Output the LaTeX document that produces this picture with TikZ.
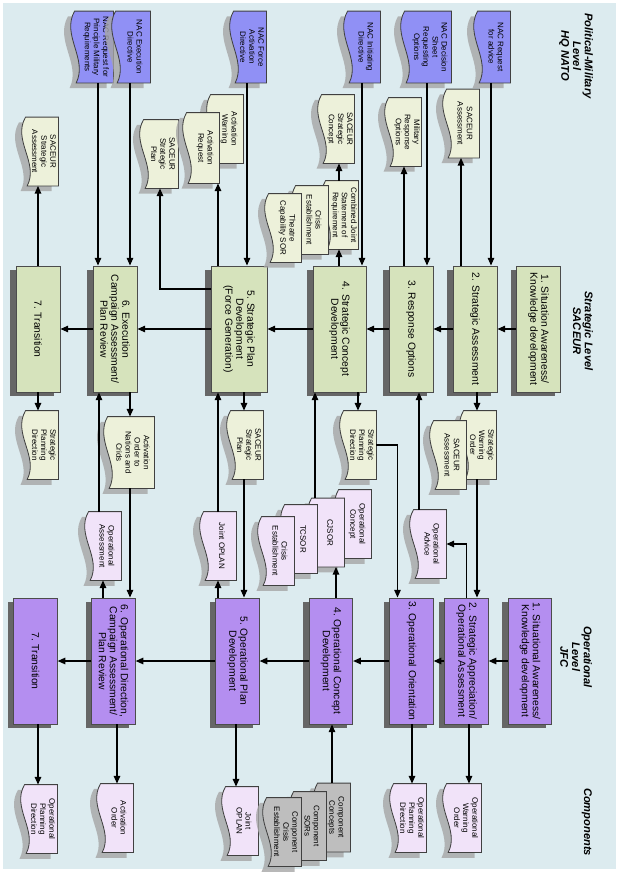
\documentclass[tikz,border=0pt]{standalone}
\usepackage{fontspec}
\setmainfont{Liberation Sans}
\usepackage{tikz}
\usetikzlibrary{arrows.meta, calc, shadows}
\definecolor{paneBlue}{HTML}{DCEBEF}
\definecolor{stratGreen}{HTML}{D6E3BC}
\definecolor{stratDoc}{HTML}{EDF1DA}
\definecolor{opPurple}{HTML}{B48EF0}
\definecolor{opDoc}{HTML}{F1E3F9}
\definecolor{nacBlue}{HTML}{9090F5}
\definecolor{compGray}{HTML}{BEBEBE}

% document page with a wavy lower edge
\makeatletter
\newdimen\wdxa \newdimen\wdya \newdimen\wdxb \newdimen\wdyb \newdimen\wdt
\newdimen\wavedp \wavedp=1.2mm
\pgfdeclareshape{wavedoc}{
  \inheritsavedanchors[from=rectangle]
  \inheritanchorborder[from=rectangle]
  \inheritanchor[from=rectangle]{center}
  \inheritanchor[from=rectangle]{north}
  \inheritanchor[from=rectangle]{south}
  \inheritanchor[from=rectangle]{east}
  \inheritanchor[from=rectangle]{west}
  \inheritanchor[from=rectangle]{north east}
  \inheritanchor[from=rectangle]{north west}
  \inheritanchor[from=rectangle]{south east}
  \inheritanchor[from=rectangle]{south west}
  \backgroundpath{%
    \southwest \wdxa=\pgf@x \wdya=\pgf@y
    \northeast \wdxb=\pgf@x \wdyb=\pgf@y
    \wdt=\wdxb \advance\wdt by -\wdxa \divide\wdt by 3
    \pgfpathmoveto{\pgfqpoint{\wdxa}{\dimexpr\wdya-\wavedp\relax}}%
    \pgfpathlineto{\pgfqpoint{\wdxa}{\wdyb}}%
    \pgfpathlineto{\pgfqpoint{\wdxb}{\wdyb}}%
    \pgfpathlineto{\pgfqpoint{\wdxb}{\dimexpr\wdya-0.6\wavedp\relax}}%
    \pgfpathcurveto{\pgfqpoint{\dimexpr\wdxa+2\wdt\relax}{\dimexpr\wdya+2.4\wavedp\relax}}%
                   {\pgfqpoint{\dimexpr\wdxa+\wdt\relax}{\dimexpr\wdya-4.4\wavedp\relax}}%
                   {\pgfqpoint{\wdxa}{\dimexpr\wdya-\wavedp\relax}}%
    \pgfpathclose
  }
}
\makeatother

\newcommand\boxfont{\fontsize{8.8}{9.4}\selectfont}
\newcommand\docfont{\fontsize{6.8}{7.8}\selectfont}
\newcommand\lvlfont{\fontsize{9.5}{10}\selectfont\bfseries\itshape}

\tikzset{
  stepbox/.style={draw=black!70, line width=0.8pt, rotate=-90, minimum width=37.8mm, minimum height=13.2mm, inner sep=1pt, align=center, font=\boxfont, drop shadow={shadow xshift=-1.8mm, shadow yshift=-1.1mm, fill=black!60, opacity=1}},
  stratbox/.style={stepbox, fill=stratGreen},
  opbox/.style={stepbox, fill=opPurple},
  doc/.style={shape=wavedoc, draw=black!75, line width=0.7pt, rotate=-90, minimum width=20.4mm, minimum height=8.4mm, inner sep=0.6pt, align=center, font=\docfont, drop shadow={shadow xshift=-2mm, shadow yshift=-1.6mm, fill=black!35, opacity=0.8}},
  nacdoc/.style={doc, fill=nacBlue, minimum width=21.3mm},
  sdoc/.style={doc, fill=stratDoc},
  odoc/.style={doc, fill=opDoc},
  cdoc/.style={doc, fill=compGray},
  lvl/.style={rotate=-90, anchor=north, align=center, font=\lvlfont},
}

\begin{document}
\begin{tikzpicture}[x=0.3mm, y=-0.3mm, >={Triangle[length=6.5pt,width=5.5pt]}, link/.style={line width=1pt}]
  \useasboundingbox (0,0) rectangle (619,872);
  \fill[paneBlue] (3,3) rectangle (616,869);

  % Level captions
  \node[lvl] (lvlpol) at (597,56) {Political-Military\\Level\\HQ NATO};
  \node[lvl] (lvlstr) at (597,331) {Strategic Level\\SACEUR};
  \node[lvl] (lvlop) at (596,657) {Operational\\Level\\JFC};
  \node[lvl] (lvlcomp) at (596,822) {Components};

  % Strategic steps
  \node[stratbox] (s1) at (538.5,329) {1. Situation Awareness/\\Knowledge development};
  \node[stratbox] (s2) at (475,329) {2. Strategic Assessment};
  \node[stratbox] (s3) at (411,329) {3. Response Options};
  \node[stratbox, minimum height=15.9mm] (s4) at (339.5,329) {4. Strategic Concept\\Development};
  \node[stratbox, minimum height=16.8mm] (s5) at (239,329) {5. Strategic Plan\\Development\\(Force Generation)};
  \node[stratbox] (s6) at (115,329) {6. Execution\\Campaign Assessment/\\Plan Review};
  \node[stratbox] (s7) at (38,329) {7. Transition};

  % Operational steps
  \node[opbox, minimum height=13mm] (o1) at (530,661) {1. Situational Awareness/\\Knowledge development};
  \node[opbox, minimum height=13mm] (o2) at (466.5,661) {2. Strategic Appreciation/\\Operational Assessment};
  \node[opbox, minimum height=13mm] (o3) at (411.5,661) {3. Operational Orientation};
  \node[opbox, minimum height=13mm] (o4) at (331,661) {4. Operational Concept\\Development};
  \node[opbox, minimum height=13mm] (o5) at (237.5,661) {5. Operational Plan\\Development};
  \node[opbox, minimum height=13mm] (o6) at (113.5,661) {6. Operational Direction,\\Campaign Assessment/\\Plan Review};
  \node[opbox, minimum height=13mm] (o7) at (35.5,661) {7. Transition};

  % NAC documents
  \node[nacdoc, minimum height=10.2mm] (nacpmr) at (96,47) {NAC Request for\\Principle Military\\Requirements};
  \node[nacdoc, minimum height=9mm] (nacexe) at (135,47) {NAC Execution\\Directive};
  \node[nacdoc] (nacforce) at (252,47) {NAC Force\\Activation\\Directive};
  \node[nacdoc] (nacinit) at (366,47) {NAC Initiating\\Directive};
  \node[nacdoc, minimum height=12.6mm] (nacdec) at (430,47) {NAC Decision\\Sheet\\Requesting\\Options};
  \node[nacdoc] (nacadv) at (496,47) {NAC Request\\for advice};

  % Strategic products, upper row
  \node[sdoc] (ssass) at (44,151.5) {SACEUR\\Strategic\\Assessment};
  \node[sdoc, minimum height=9mm] (sacplan) at (163,154) {SACEUR\\Strategic\\Plan};
  \node[sdoc] (actwarn) at (229,129) {Activation\\Warning};
  \node[sdoc, minimum width=21mm] (actreq) at (205,148) {Activation\\Request};
  \node[sdoc] (sccon) at (340,129) {SACEUR\\Strategic\\Concept};
  \node[sdoc] (cjsr) at (344,215) {Combined Joint\\Statement of\\Requirement};
  \node[sdoc] (crisis1) at (314,220) {Crisis\\Establishment};
  \node[sdoc] (theatre) at (287,228) {Theatre\\Capability SOR};
  \node[sdoc] (milopt) at (407,132) {Military\\Response\\Options};
  \node[sdoc] (sacass) at (465,123.5) {SACEUR\\Assessment};

  % Strategic products, lower row
  \node[sdoc] (spd7) at (44,445) {Strategic\\Planning\\Direction};
  \node[sdoc, minimum height=12.6mm, minimum width=21.3mm] (actord) at (133,452.5) {Activation\\Order to\\Nations and\\Crids};
  \node[sdoc] (sacplan2) at (249,445) {SACEUR\\Strategic\\Plan};
  \node[sdoc] (spdmid) at (362,445) {Strategic\\Planning\\Direction};
  \node[sdoc] (swo) at (482,445) {Strategic\\Warning\\Order};
  \node[sdoc] (sacass2) at (452,455) {SACEUR\\Assessment};

  % Operational products for SACEUR
  \node[odoc] (opass) at (107,546) {Operational\\Assessment};
  \node[odoc] (jopmid) at (222,546) {Joint OPLAN};
  \node[odoc] (opconc) at (357,524) {Operational\\Concept};
  \node[odoc] (cjsor) at (330,532.5) {CJSOR};
  \node[odoc] (tcsor) at (303,539) {TCSOR};
  \node[odoc] (crisis2) at (280,551) {Crisis\\Establishment};
  \node[odoc] (opadv) at (432,544) {Operational\\Advice};

  % Component level documents
  \node[odoc] (opd7) at (43,819) {Operational\\Planning\\Direction};
  \node[odoc] (actord2) at (119,818) {Activation\\Order};
  \node[odoc] (joplan2) at (244,821) {Joint\\OPLAN};
  \node[cdoc] (compconc) at (336,817.5) {Component\\Concepts};
  \node[cdoc] (compsor) at (312,826) {Component\\SORs};
  \node[cdoc, minimum height=9mm] (compcrisis) at (286,832) {Component\\Crisis\\Establishment};
  \node[odoc] (opd3) at (412,818) {Operational\\Planning\\Direction};
  \node[odoc, minimum height=9mm] (owo) at (466,818) {Operational\\Warning\\Order};

  % Step to step
  \draw[link,->] (s1.south) -- (s2.north);
  \draw[link,->] (s2.south) -- (s3.north);
  \draw[link,->] (s3.south) -- (s4.north);
  \draw[link,->] (s4.south) -- (s5.north);
  \draw[link,->] (s5.south) -- (s6.north);
  \draw[link,->] (s6.south) -- (s7.north);
  \draw[link,->] (o1.south) -- (o2.north);
  \draw[link,->] (o2.south) -- (o3.north);
  \draw[link,->] (o3.south) -- (o4.north);
  \draw[link,->] (o4.south) -- (o5.north);
  \draw[link,->] (o5.south) -- (o6.north);
  \draw[link,->] (o6.south) -- (o7.north);

  % Political-military and strategic
  \draw[link,->] ($(nacadv.east)+(-5,0)$) coordinate (k) -- (k |- s2.west);
  \draw[link,<-] ($(sacass.east)+(-4,0)$) coordinate (k) -- (k |- s2.west);
  \draw[link,->] ($(nacdec.east)+(-3,0)$) coordinate (k) -- (k |- s3.west);
  \draw[link,<-] ($(milopt.east)+(-3,0)$) coordinate (k) -- (k |- s3.west);
  \draw[link,->] ($(nacinit.east)+(-4,0)$) coordinate (k) -- (k |- s4.west);
  \draw[link,<-] ($(cjsr.east)+(-5,0)$) coordinate (k) -- (k |- s4.west);
  \draw[link,<-] ($(sccon.east)+(-1,0)$) coordinate (k) -- (k |- cjsr.west);
  \draw[link,->] ($(nacforce.east)+(-5,0)$) coordinate (k) -- (k |- s5.west);
  \draw[link,<-] ($(actreq.east)+(13,0)$) coordinate (k) -- (k |- s5.west);
  \draw[link,->] ($(s5.south)+(0,-40)$) -| ($(sacplan.east)+(-3,0)$);
  \draw[link,->] ($(nacexe.east)+(-5,0)$) coordinate (k) -- (k |- s6.west);
  \draw[link,->] ($(nacpmr.east)+(2,0)$) coordinate (k) -- (k |- s6.west);
  \draw[link,<-] ($(ssass.east)+(-6,0)$) coordinate (k) -- (k |- s7.west);

  % Strategic and operational
  \draw[link,<-] ($(spd7.west)+(-6,0)$) coordinate (k) -- (k |- s7.east);
  \draw[link,->] ($(opass.west)+(-8,0)$) coordinate (k) -- (k |- s6.east);
  \draw[link,<-] ($(opass.east)+(-4,0)$) coordinate (k) -- (k |- o6.west);
  \draw[link,<-] ($(actord.west)+(-3,0)$) coordinate (k) -- (k |- s6.east);
  \draw[link,->] ($(actord.east)+(-3,0)$) coordinate (k) -- (k |- o6.west);
  \draw[link,->] ($(jopmid.west)+(-4,0)$) coordinate (k) -- (k |- s5.east);
  \draw[link,<-] ($(jopmid.east)+(-4,0)$) coordinate (k) -- (k |- o5.west);
  \draw[link,<-] ($(sacplan2.west)+(-5,0)$) coordinate (k) -- (k |- s5.east);
  \draw[link,->] ($(sacplan2.east)+(-5,0)$) coordinate (k) -- (k |- o5.west);
  \draw[link,->] ($(cjsor.west)+(-15,0)$) coordinate (k) -- (k |- s4.east);
  \draw[link,<-] ($(cjsor.east)+(6,0)$) coordinate (k) -- (k |- o4.west);
  \draw[link,<-] ($(spdmid.west)+(-4,0)$) coordinate (k) -- (k |- s4.east);
  \draw[link,->] (spdmid.north) -| ($(o3.west)+(-14,0)$);
  \draw[link,->] ($(opadv.west)+(-13,0)$) coordinate (k) -- (k |- s3.east);
  \draw[link,->] (o2.west) |- (opadv.north);
  \draw[link,<-] ($(swo.west)+(-5,0)$) coordinate (k) -- (k |- s2.east);
  \draw[link,->] ($(swo.east)+(-5,0)$) coordinate (k) -- (k |- o2.west);

  % Operational and components
  \draw[link,<-] ($(opd7.west)+(-5,0)$) coordinate (k) -- (k |- o7.east);
  \draw[link,<-] ($(actord2.west)+(-2,0)$) coordinate (k) -- (k |- o6.east);
  \draw[link,<-] ($(joplan2.west)+(-8,0)$) coordinate (k) -- (k |- o5.east);
  \draw[link,->] ($(compconc.west)+(-4,0)$) coordinate (k) -- (k |- o4.east);
  \draw[link,<-] (opd3.west) -- (opd3.west |- o3.east);
  \draw[link,<-] ($(owo.west)+(3,0)$) coordinate (k) -- (k |- o2.east);
\end{tikzpicture}
\end{document}
